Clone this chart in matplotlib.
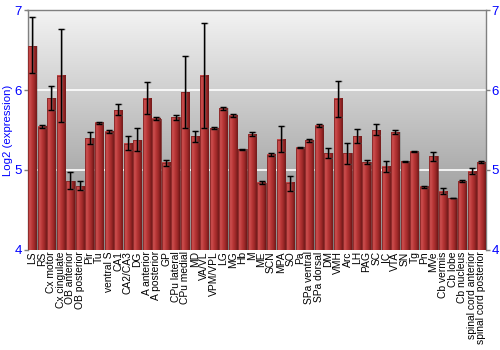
import numpy as np
import matplotlib
matplotlib.use("Agg")
import matplotlib.pyplot as plt
from matplotlib.colors import LinearSegmentedColormap

plt.rcParams['font.family'] = ['Liberation Sans', 'DejaVu Sans']

# regions and log2 expression (mean, error-bar low, error-bar high)
regions = ["LS", "RS", "Cx motor", "Cx cingulate", "OB anterior", "OB posterior",
           "Pir", "Tu", "ventral S", "CA1", "CA2/CA3", "DG", "A anterior",
           "A posterior", "GP", "CPu lateral", "CPu medial", "MD", "VA/VL",
           "VPM/VPL", "LG", "MG", "Hb", "M", "ME", "SCN", "MPA", "SO", "Pa",
           "SPa ventral", "SPa dorsal", "DM", "VMH", "Arc", "LH", "PAG", "SC",
           "IC", "VTA", "SN", "Tg", "Pn", "MVe", "Cb vermis", "Cb lobe",
           "Cb nucleus", "spinal cord anterior", "spinal cord posterior"]
values = [6.55, 5.54, 5.90, 6.18, 4.86, 4.80, 5.40, 5.59, 5.48, 5.75, 5.33, 5.375,
          5.89, 5.64, 5.09, 5.66, 5.97, 5.425, 6.18, 5.525, 5.77, 5.68, 5.26, 5.45,
          4.84, 5.19, 5.38, 4.84, 5.28, 5.37, 5.555, 5.21, 5.89, 5.21, 5.425, 5.10,
          5.50, 5.04, 5.475, 5.11, 5.23, 4.79, 5.17, 4.73, 4.65, 4.86, 4.98, 5.10]
err_low = [6.21, 5.52, 5.75, 5.60, 4.76, 4.75, 5.33, 5.58, 5.46, 5.69, 5.25, 5.24,
           5.70, 5.62, 5.05, 5.63, 5.52, 5.35, 5.53, 5.51, 5.75, 5.66, 5.255, 5.43,
           4.82, 5.17, 5.22, 4.74, 5.275, 5.355, 5.535, 5.15, 5.66, 5.08, 5.34, 5.08,
           5.44, 4.975, 5.45, 5.105, 5.225, 4.78, 5.11, 4.70, 4.645, 4.845, 4.95, 5.085]
err_high = [6.91, 5.56, 6.05, 6.77, 4.97, 4.86, 5.47, 5.60, 5.50, 5.82, 5.42, 5.52,
            6.10, 5.66, 5.13, 5.69, 6.43, 5.49, 6.84, 5.54, 5.79, 5.70, 5.265, 5.47,
            4.86, 5.21, 5.55, 4.93, 5.285, 5.385, 5.575, 5.28, 6.11, 5.34, 5.51, 5.12,
            5.57, 5.11, 5.50, 5.115, 5.235, 4.80, 5.23, 4.77, 4.655, 4.875, 5.03, 5.115]

fig = plt.figure(figsize=(5, 3.5), dpi=100)
ax = fig.add_axes([0.055, 0.286, 0.917, 0.685])

x = np.arange(len(regions))
vals = np.array(values)
lo = vals - np.array(err_low)
hi = np.array(err_high) - vals

# grey gradient background (light at top, darker at bottom)
bg = np.linspace(0, 1, 256).reshape(-1, 1)
bg_cmap = LinearSegmentedColormap.from_list("bg", ["#f3f3f3", "#8a8a8a"])
ax.imshow(bg, extent=[0, 1, 0, 1], transform=ax.transAxes, aspect="auto",
          cmap=bg_cmap, zorder=0)

for yv in [5, 6]:
    ax.axhline(yv, color="white", lw=1.2, zorder=1)

# glossy bars
w = 0.86
bar_cmap = LinearSegmentedColormap.from_list(
    "bar", ["#c24848", "#c84a4a", "#b43434", "#9a2828", "#6e1616"])
grad = np.linspace(0, 1, 64).reshape(1, -1)
ax.bar(x + 0.12, vals - 4, bottom=4, width=w, color="#505050", alpha=0.25,
       lw=0, zorder=2)
for xi, v in zip(x, vals):
    ax.imshow(grad, extent=[xi - w / 2, xi + w / 2, 4, v], aspect="auto",
              cmap=bar_cmap, zorder=3)
ax.bar(x, vals - 4, bottom=4, width=w, facecolor="none", edgecolor="#7a2020",
       lw=0.5, zorder=4)

ax.errorbar(x + 0.1, vals, yerr=[lo, hi], fmt="none", ecolor="#707070",
            elinewidth=1.2, capsize=2.5, capthick=1, alpha=0.6, zorder=5)
ax.errorbar(x, vals, yerr=[lo, hi], fmt="none", ecolor="black",
            elinewidth=1, capsize=2.5, capthick=1, zorder=6)

ax.set_xlim(-0.5, len(regions) - 0.5)
ax.set_ylim(4, 7)
ax.set_aspect("auto")
ax.set_yticks([4, 5, 6, 7])
ax.set_xticks(x)
ax.set_xticklabels(regions, rotation=90, fontsize=7.4)
ax.tick_params(axis="x", length=0, pad=1)
ax.tick_params(axis="y", colors="#808080", labelcolor="blue", labelsize=9.5,
               length=3, width=1, right=True, labelright=True, pad=1)
ax.set_ylabel("Log2 (expression)", color="blue", fontsize=8.2)
ax.yaxis.set_label_coords(-0.031, 0.5)

for s in ["left", "top", "right"]:
    ax.spines[s].set_color("#808080")
    ax.spines[s].set_linewidth(1)
ax.spines["bottom"].set_visible(False)

fig.savefig("out.png", dpi=100)
